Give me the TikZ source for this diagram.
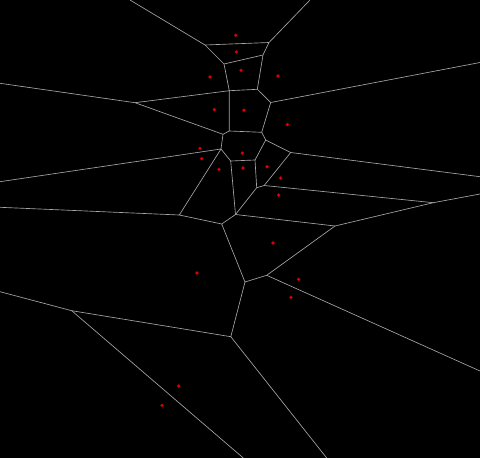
\documentclass[tikz,border=0pt]{standalone}
\begin{document}
\begin{tikzpicture}[x=1pt,y=-1pt,
  edge/.style={draw=black!35!white, line width=0.65pt},
  site/.style={circle, fill=red!85!black, inner sep=0pt, minimum size=3.6pt}]
\fill[black] (0,0) rectangle (480,458);
\useasboundingbox (0,0) rectangle (480,458);
% vertices
\coordinate (A) at (205,45);
\coordinate (B) at (269,42.5);
\coordinate (C) at (224,64);
\coordinate (D) at (263,55);
\coordinate (E) at (229.3,90.7);
\coordinate (F) at (257.3,89.3);
\coordinate (G) at (270.7,102.5);
\coordinate (H) at (135,102.7);
\coordinate (I) at (223,134.3);
\coordinate (J) at (229.3,131);
\coordinate (K) at (261.7,132.3);
\coordinate (L) at (265.7,140);
\coordinate (M) at (290.7,152.5);
\coordinate (N) at (221,149);
\coordinate (O) at (230.7,161);
\coordinate (P) at (255,160);
\coordinate (Q) at (235.5,214.5);
\coordinate (R) at (256.7,187.7);
\coordinate (S) at (264.2,185.5);
\coordinate (T) at (433.3,202.7);
\coordinate (U) at (335,226);
\coordinate (V) at (221.7,224);
\coordinate (W) at (179.3,215);
\coordinate (X) at (245,282);
\coordinate (Y) at (266.7,275.3);
\coordinate (Z) at (230.8,336.7);
\coordinate (AA) at (71.7,310.7);
% border ends
\coordinate (eA) at (130,0);
\coordinate (eB) at (310,0);
\coordinate (eG) at (480,62.5);
\coordinate (eH) at (0,83.3);
\coordinate (eM) at (480,176.7);
\coordinate (eN) at (0,181.7);
\coordinate (eT) at (480,194);
\coordinate (eW) at (0,207.3);
\coordinate (eY) at (480,371);
\coordinate (eAA) at (0,291.7);
\coordinate (bAA) at (243.3,458);
\coordinate (bZ) at (326.7,458);
% edges
\draw[edge] (eA) -- (A) -- (B) -- (eB);
\draw[edge] (A) -- (C) -- (D) -- (B);
\draw[edge] (C) -- (E) -- (F) -- (D);
\draw[edge] (F) -- (G) -- (eG);
\draw[edge] (eH) -- (H) -- (E);
\draw[edge] (H) -- (I) -- (J) -- (E);
\draw[edge] (J) -- (K) -- (G);
\draw[edge] (K) -- (L) -- (M) -- (eM);
\draw[edge] (I) -- (N) -- (eN);
\draw[edge] (N) -- (O) -- (P) -- (L);
\draw[edge] (O) -- (Q);
\draw[edge] (P) -- (R) -- (S) -- (M);
\draw[edge] (S) -- (T) -- (eT);
\draw[edge] (T) -- (U);
\draw[edge] (R) -- (Q) -- (U);
\draw[edge] (Q) -- (V) -- (W) -- (N);
\draw[edge] (W) -- (eW);
\draw[edge] (V) -- (X) -- (Y) -- (U);
\draw[edge] (Y) -- (eY);
\draw[edge] (X) -- (Z) -- (AA) -- (eAA);
\draw[edge] (AA) -- (bAA);
\draw[edge] (Z) -- (bZ);
% sites
\node[site] (s1) at (235.7,35.3) {};
\node[site] (s2) at (236.3,52) {};
\node[site] (s3) at (241,70.3) {};
\node[site] (s4) at (210,77) {};
\node[site] (s5) at (278,76) {};
\node[site] (s6) at (214.3,109.7) {};
\node[site] (s7) at (244,110.2) {};
\node[site] (s8) at (287.3,124.5) {};
\node[site] (s9) at (200,148.3) {};
\node[site] (s10) at (201.7,158.7) {};
\node[site] (s11) at (242.3,153) {};
\node[site] (s12) at (219,169.3) {};
\node[site] (s13) at (243,168) {};
\node[site] (s14) at (267,166.7) {};
\node[site] (s15) at (280.7,178) {};
\node[site] (s16) at (278.7,195) {};
\node[site] (s17) at (273,243) {};
\node[site] (s18) at (197,273) {};
\node[site] (s19) at (298.7,279.3) {};
\node[site] (s20) at (291,297.3) {};
\node[site] (s21) at (178.7,386) {};
\node[site] (s22) at (162,405.3) {};
\end{tikzpicture}
\end{document}
